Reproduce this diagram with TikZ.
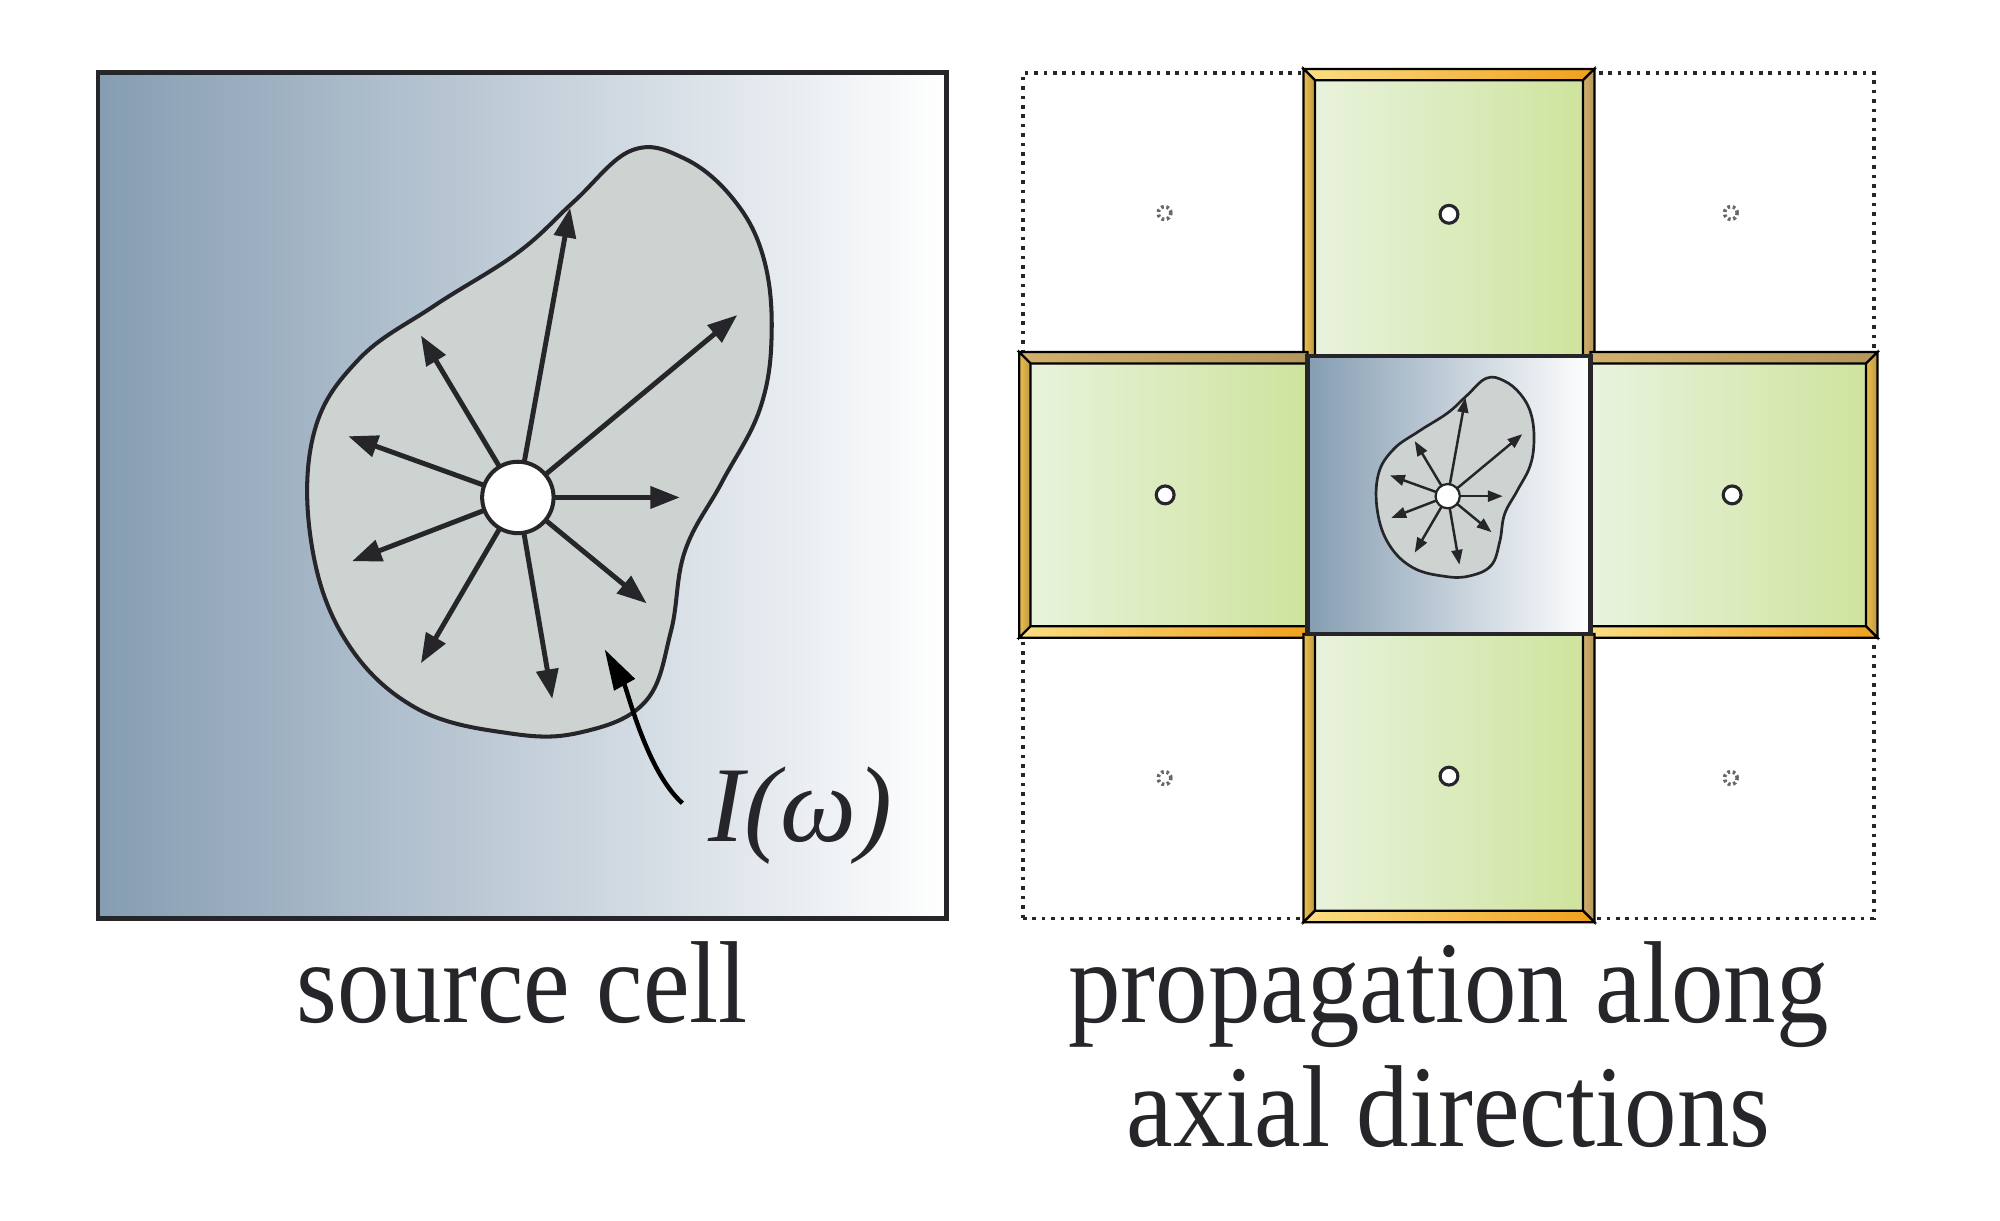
\documentclass[tikz,border=0pt]{standalone}
\usepackage{fontspec}
\setmainfont{Liberation Serif}
\usepackage{graphicx}
\usepackage{tikz}
\usetikzlibrary{arrows.meta,positioning}
\definecolor{ink}{RGB}{38,38,42}
\definecolor{cellsteel}{RGB}{133,157,178}
\definecolor{blobgray}{RGB}{205,211,209}
\definecolor{greenpale}{RGB}{233,243,222}
\definecolor{greendeep}{RGB}{206,227,156}
\definecolor{barpale}{RGB}{250,222,130}
\definecolor{barorange}{RGB}{240,160,30}
\definecolor{bargold}{RGB}{236,190,80}
\definecolor{bartan}{RGB}{210,176,108}
\newcommand{\condensed}[1]{\scalebox{0.9}[1]{#1}}

\begin{document}
\begin{tikzpicture}[x=0.1mm, y=-0.1mm,
  srcbox/.style={draw=ink, line width=1pt, left color=cellsteel, right color=white, inner sep=0pt, outer sep=0pt},
  gridframe/.style={draw=ink, line width=0.8pt, dash pattern=on 0.8pt off 1.3pt, inner sep=0pt, outer sep=0pt},
  arm/.style={draw=ink, line width=1pt, left color=greenpale, right color=greendeep, inner sep=0pt, outer sep=0pt},
  litbar/.style={draw=black, line width=0.5pt, left color=barpale, right color=barorange},
  sidebar/.style={draw=black, line width=0.5pt, left color=bargold, right color=bargold!80!black},
  shadebar/.style={draw=black, line width=0.5pt, left color=bartan, right color=bartan!85!black},
  probe/.style={circle, draw=ink, fill=white, line width=0.7pt, minimum size=1.4mm, inner sep=0pt},
  ghost/.style={circle, draw=ink!70, line width=0.8pt, dash pattern=on 0.6pt off 0.6pt, minimum size=1mm, inner sep=0pt},
  blob/.style={draw=ink, fill=blobgray, line width=0.9pt},
  srcdot/.style={circle, draw=ink, fill=white, line width=0.9pt, minimum size=5.6mm, inner sep=0pt, outer sep=0pt},
  ray/.style={draw=ink, line width=1.1pt, -{Triangle[length=0pt 6, width=0pt 4.4]}},
  pointer/.style={draw=black, line width=1pt, -{Triangle[length=3.2mm, width=1.8mm]}},
  celllabel/.style={font=\fontsize{26}{27.5}\selectfont, text=ink, inner sep=0pt, anchor=base},
  srcblob/.pic={
    \path[blob] plot[smooth cycle, tension=0.65] coordinates {(89,-272) (130,-266) (168,-235) (192,-190)
      (199,-130) (190,-70) (160,-12) (131,42) (120,105) (100,160) (50,184) (-6,185) (-80,165)
      (-135,112) (-162,35) (-160,-50) (-125,-108) (-66,-150) (0,-192) (44,-232)};
    \node[srcdot] (-src) at (0,0) {};
    \foreach \dx/\dy [count=\k] in {41/-227, 172/-143, 127/0, 101/83, 27/158, -76/130, -130/50, -133/-48, -76/-127}
      {\coordinate (-tip\k) at (\dx,\dy);
       \draw[ray] (-src) -- (-tip\k);}
  }]
  \useasboundingbox (0,0) rectangle (1568,957);

  % source cell
  \node[srcbox, minimum width=66.5mm, minimum height=66.3mm] (srccell) at (409.5,388.5) {};
  \pic (big) at (406,390) {srcblob};
  \node[anchor=base west, inner sep=0pt, text=ink, font=\fontsize{24}{28}\selectfont\itshape] (intens) at (555,660) {I(ω)};
  \coordinate (itip) at (474,509);
  \draw[pointer] ([shift={(-2mm,1mm)}]intens.west) .. controls +(-28,-25) and +(18,32) .. (itip);
  \node[celllabel] (srccap) at ([yshift=-8.2mm]srccell.south) {\condensed{source cell}};

  % neighbour cells
  \node[gridframe, minimum width=66.7mm, minimum height=66.3mm] (grid) at (1135.5,388.5) {};
  \node[arm, minimum width=22.2mm, minimum height=21.8mm] (midcell) at (1136,388) {};
  \node[arm, minimum width=22.2mm, minimum height=22.2mm, above=0pt of midcell] (upcell) {};
  \node[arm, minimum width=22.2mm, minimum height=22.3mm, below=0pt of midcell] (downcell) {};
  \node[arm, minimum width=22.3mm, minimum height=21.8mm, left=0pt of midcell] (leftcell) {};
  \node[arm, minimum width=22.2mm, minimum height=21.8mm, right=0pt of midcell] (rightcell) {};

  \path[litbar] (1022,54) -- (1250,54) -- (1241,63) -- (1031,63) -- cycle;
  \path[sidebar] (1022,54) -- (1031,63) -- (1031,279) -- (1022,279) -- cycle;
  \path[shadebar] (1250,54) -- (1250,279) -- (1241,279) -- (1241,63) -- cycle;

  \path[shadebar] (799,276) -- (1025,276) -- (1025,285) -- (808,285) -- cycle;
  \path[sidebar] (799,276) -- (808,285) -- (808,491) -- (799,500) -- cycle;
  \path[litbar] (799,500) -- (808,491) -- (1025,491) -- (1025,500) -- cycle;

  \path[shadebar] (1247,276) -- (1472,276) -- (1463,285) -- (1247,285) -- cycle;
  \path[sidebar] (1472,276) -- (1472,500) -- (1463,491) -- (1463,285) -- cycle;
  \path[litbar] (1247,491) -- (1463,491) -- (1472,500) -- (1247,500) -- cycle;

  \path[sidebar] (1022,497) -- (1031,497) -- (1031,714) -- (1022,723) -- cycle;
  \path[shadebar] (1241,497) -- (1250,497) -- (1250,723) -- (1241,714) -- cycle;
  \path[litbar] (1022,723) -- (1031,714) -- (1241,714) -- (1250,723) -- cycle;

  \node[srcbox, minimum width=22.2mm, minimum height=21.8mm] (midsrc) at (midcell) {};
  \pic[scale=0.34, transform shape, ray/.append style={line width=0.55pt},
       blob/.append style={line width=0.6pt}, srcdot/.append style={line width=0.5pt}] (mini) at (1135,389) {srcblob};

  \node[probe] (pup) at (upcell) {};
  \node[probe] (pdown) at (downcell) {};
  \node[probe] (pleft) at (leftcell) {};
  \node[probe] (pright) at (rightcell) {};
  \node[ghost] (gnw) at (913,167) {};
  \node[ghost] (gne) at (1357,167) {};
  \node[ghost] (gsw) at (913,610) {};
  \node[ghost] (gse) at (1357,610) {};

  \node[celllabel] (gridcap) at ([yshift=-8.2mm]grid.south)
    {\condensed{\begin{tabular}[t]{@{}c@{}}propagation along\\axial directions\end{tabular}}};
\end{tikzpicture}
\end{document}
